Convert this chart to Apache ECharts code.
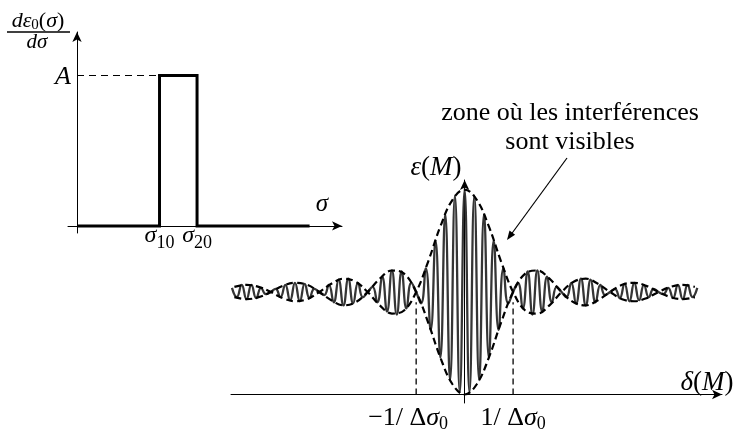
<!DOCTYPE html>
<html><head><meta charset="utf-8">
<script src="https://cdn.jsdelivr.net/npm/echarts@6/dist/echarts.min.js"></script>
<style>html,body{margin:0;padding:0;background:#fff}#c{width:743px;height:433px}</style>
</head><body><div id="c"></div>
<script>
// ---- Left panel: spectral density dε0/dσ (rectangle) ----
const spectrumSigma = [0, 2.75, 2.75, 4.0, 4.0, 7.75];
const spectrumValue = [0, 0, 1, 1, 0, 0];
const levelA = 1;
const sigmaTicks = [2.75, 4.0];
const sigmaTickLabels = ['{i|σ}{s|10}', '{i|σ}{s|20}'];

// ---- Right panel: interferogram ε(M) vs δ(M) (δ in units of 1/Δσ0) ----
const fringeDelta = [-4.8,-4.7,-4.6,-4.5,-4.4,-4.3,-4.2,-4.1,-4.0,-3.9,-3.8,-3.7,-3.6,-3.5,-3.4,-3.3,-3.2,-3.1,-3.0,-2.9,-2.8,-2.7,-2.6,-2.5,-2.4,-2.3,-2.2,-2.1,-2.0,-1.9,-1.8,-1.7,-1.6,-1.5,-1.4,-1.3,-1.2,-1.1,-1.0,-0.9,-0.8,-0.7,-0.6,-0.5,-0.4,-0.3,-0.2,-0.1,0,0.1,0.2,0.3,0.4,0.5,0.6,0.7,0.8,0.9,1.0,1.1,1.2,1.3,1.4,1.5,1.6,1.7,1.8,1.9,2.0,2.1,2.2,2.3,2.4,2.5,2.6,2.7,2.8,2.9,3.0,3.1,3.2,3.3,3.4,3.5,3.6,3.7,3.8,3.9,4.0,4.1,4.2,4.3,4.4,4.5,4.6,4.7,4.8];
const fringeEps = [1.04,0.95,1.07,0.93,1.07,0.94,1.04,0.98,1.00,1.03,0.95,1.07,0.92,1.09,0.91,1.08,0.94,1.03,1.00,0.97,1.07,0.90,1.12,0.87,1.13,0.89,1.09,0.95,1.00,1.05,0.90,1.15,0.81,1.21,0.78,1.20,0.84,1.09,1.00,0.89,1.23,0.63,1.50,0.36,1.76,0.14,1.94,0.02,
  2.00,
  0.02,1.94,0.14,1.76,0.36,1.50,0.63,1.23,0.89,1.00,1.09,0.84,1.20,0.78,1.21,0.81,1.15,0.90,1.05,1.00,0.95,1.09,0.89,1.13,0.87,1.12,0.90,1.07,0.97,1.00,1.03,0.94,1.08,0.91,1.09,0.92,1.07,0.95,1.03,1.00,0.98,1.04,0.94,1.07,0.93,1.07,0.95,1.04];
const envDelta = [-4.75,-4.5,-4.25,-4.0,-3.75,-3.5,-3.25,-3.0,-2.75,-2.5,-2.25,-2.0,-1.75,-1.5,-1.25,-1.0,-0.75,-0.5,-0.25,0,0.25,0.5,0.75,1.0,1.25,1.5,1.75,2.0,2.25,2.5,2.75,3.0,3.25,3.5,3.75,4.0,4.25,4.5,4.75];
const envUpper = [1.05,1.07,1.05,1.00,0.94,0.91,0.93,1.00,1.08,1.13,1.10,1.00,0.87,0.79,0.82,1.00,1.30,1.64,1.90,2.00,1.90,1.64,1.30,1.00,0.82,0.79,0.87,1.00,1.10,1.13,1.08,1.00,0.93,0.91,0.94,1.00,1.05,1.07,1.05];
const envLower = [0.95,0.93,0.95,1.00,1.06,1.09,1.07,1.00,0.92,0.87,0.90,1.00,1.13,1.21,1.18,1.00,0.70,0.36,0.10,0.00,0.10,0.36,0.70,1.00,1.18,1.21,1.13,1.00,0.90,0.87,0.92,1.00,1.07,1.09,1.06,1.00,0.95,0.93,0.95];
const deltaTicks = [-1, 1];
const deltaTickLabels = ['{n|−1/ Δ}{i|σ}{s|0}{p|}', '{n|1/ Δ}{i|σ}{s|0}'];
const dashTop = 0.9;

const SERIF = "'Liberation Serif','DejaVu Serif',serif";
const zip = (a, b) => a.map((v, i) => [v, b[i]]);
const mkRich = (big, small, drop) => ({
  i: {fontFamily: SERIF, fontStyle: 'italic', fontSize: big, color: '#000', verticalAlign: 'top', lineHeight: big},
  n: {fontFamily: SERIF, fontSize: big, color: '#000', verticalAlign: 'top', lineHeight: big},
  s: {fontFamily: SERIF, fontSize: small, color: '#000', verticalAlign: 'top', lineHeight: small, padding: [drop, 0, 0, 0]},
  p: {width: 16, lineHeight: big}
});
// zrender-level rich (graphic elements need the "font" shorthand)
const gRich = (big, small, drop) => ({
  i: {font: 'italic ' + big + 'px ' + SERIF, fill: '#000', verticalAlign: 'top', lineHeight: big},
  n: {font: big + 'px ' + SERIF, fill: '#000', verticalAlign: 'top', lineHeight: big},
  s: {font: small + 'px ' + SERIF, fill: '#000', verticalAlign: 'top', lineHeight: small, padding: [drop, 0, 0, 0]}
});
const axisLineStyle = () => ({show: true, onZero: true, symbol: ['none', 'arrow'], symbolSize: [7, 10], lineStyle: {color: '#000', width: 1}});

const chart = echarts.init(document.getElementById('c'), null, {renderer: 'canvas'});
const lineBase = {type: 'line', symbol: 'none', silent: true, animation: false};

chart.setOption({
  backgroundColor: '#fff',
  animation: false,
  grid: [
    {left: 68, top: 32, width: 274, height: 201},
    {left: 231, top: 180, width: 491, height: 235}
  ],
  xAxis: [
    {type: 'value', gridIndex: 0, min: -0.3, max: 8.83, axisLine: axisLineStyle(),
     axisTick: {show: false}, splitLine: {show: false},
     axisLabel: {show: true, customValues: sigmaTicks, margin: -9,
       formatter: (v) => sigmaTickLabels[sigmaTicks.indexOf(v)] || '', rich: mkRich(24, 18, 10)}},
    {type: 'value', gridIndex: 1, min: -4.82, max: 5.31, axisLine: axisLineStyle(),
     axisTick: {show: false}, splitLine: {show: false},
     axisLabel: {show: true, customValues: deltaTicks, margin: 2,
       formatter: (v) => deltaTickLabels[deltaTicks.indexOf(v)] || '', rich: mkRich(26, 18, 10)}}
  ],
  yAxis: [
    {type: 'value', gridIndex: 0, min: -0.047, max: 1.289, axisLine: axisLineStyle(),
     axisTick: {show: false}, axisLabel: {show: false}, splitLine: {show: false}},
    {type: 'value', gridIndex: 1, min: -0.083, max: 2.093, axisLine: axisLineStyle(),
     axisTick: {show: false}, axisLabel: {show: false}, splitLine: {show: false}}
  ],
  series: [
    Object.assign({}, lineBase, {xAxisIndex: 0, yAxisIndex: 0, data: [[0, levelA], [spectrumSigma[1], levelA]],
      lineStyle: {color: '#000', width: 1.2, type: [7, 5]}}),
    Object.assign({}, lineBase, {xAxisIndex: 0, yAxisIndex: 0, data: zip(spectrumSigma, spectrumValue),
      lineStyle: {color: '#000', width: 3, join: 'miter', cap: 'butt'}, z: 3}),
    Object.assign({}, lineBase, {xAxisIndex: 1, yAxisIndex: 1, data: zip(fringeDelta, fringeEps), smooth: 0.5,
      lineStyle: {color: '#353535', width: 2.3}, z: 2}),
    Object.assign({}, lineBase, {xAxisIndex: 1, yAxisIndex: 1, data: zip(envDelta, envUpper), smooth: 0.4,
      lineStyle: {color: '#000', width: 2.2, type: [7, 4]}, z: 3}),
    Object.assign({}, lineBase, {xAxisIndex: 1, yAxisIndex: 1, data: zip(envDelta, envLower), smooth: 0.4,
      lineStyle: {color: '#000', width: 2.2, type: [7, 4]}, z: 3}),
    Object.assign({}, lineBase, {xAxisIndex: 1, yAxisIndex: 1, data: [[deltaTicks[0], 0], [deltaTicks[0], dashTop]],
      lineStyle: {color: '#000', width: 1.3, type: [6, 4]}}),
    Object.assign({}, lineBase, {xAxisIndex: 1, yAxisIndex: 1, data: [[deltaTicks[1], 0], [deltaTicks[1], dashTop]],
      lineStyle: {color: '#000', width: 1.3, type: [6, 4]}})
  ],
  graphic: [
    {type: 'text', x: 38, y: 21, style: {text: '{i|dε}{s|0}{n|(}{i|σ}{n|)}', align: 'center', verticalAlign: 'middle', rich: gRich(22, 15, 8)}},
    {type: 'line', shape: {x1: 7, y1: 32, x2: 70, y2: 32}, style: {stroke: '#000', lineWidth: 1.3}},
    {type: 'text', x: 37, y: 42, style: {text: 'dσ', font: 'italic 21px ' + SERIF, fill: '#000', align: 'center', verticalAlign: 'middle'}},
    {type: 'text', x: 63, y: 77, style: {text: 'A', font: 'italic 26px ' + SERIF, fill: '#000', align: 'center', verticalAlign: 'middle'}},
    {type: 'text', x: 322, y: 204, style: {text: 'σ', font: 'italic 25px ' + SERIF, fill: '#000', align: 'center', verticalAlign: 'middle'}},
    {type: 'text', x: 436, y: 168, style: {text: '{i|ε}{n|(}{i|M}{n|)}', align: 'center', verticalAlign: 'middle', rich: gRich(27, 18, 8)}},
    {type: 'text', x: 707, y: 383, style: {text: '{i|δ}{n|(}{i|M}{n|)}', align: 'center', verticalAlign: 'middle', rich: gRich(27, 18, 8)}},
    {type: 'text', x: 570, y: 113, style: {text: 'zone où les interférences', font: '26px ' + SERIF, fill: '#000', align: 'center', verticalAlign: 'middle'}},
    {type: 'text', x: 570, y: 142, style: {text: 'sont visibles', font: '26px ' + SERIF, fill: '#000', align: 'center', verticalAlign: 'middle'}},
    {type: 'line', shape: {x1: 567, y1: 158, x2: 510, y2: 236}, style: {stroke: '#000', lineWidth: 1.2}},
    {type: 'polygon', shape: {points: [[507, 240], [515.1, 234.8], [509.5, 230.6]]}, style: {fill: '#000'}}
  ]
});
</script></body></html>
